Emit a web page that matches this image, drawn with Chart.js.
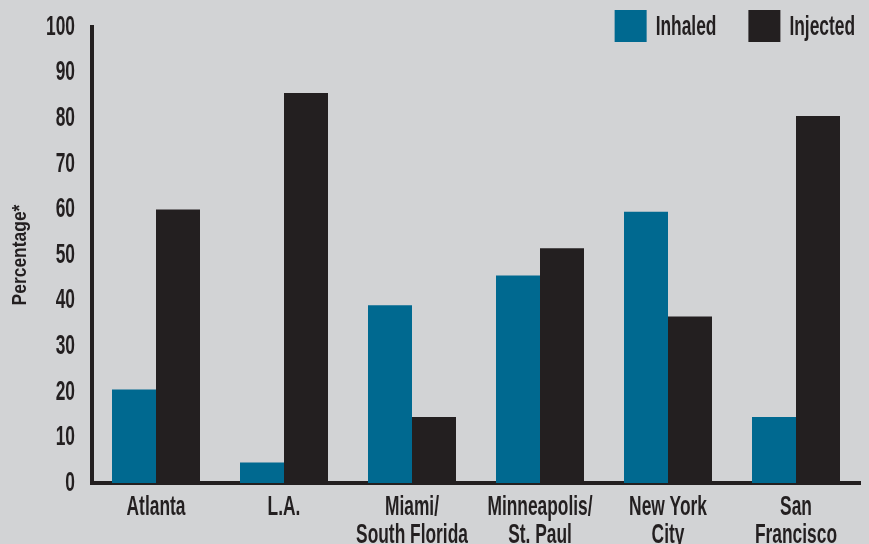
<!DOCTYPE html>
<html>
<head>
<meta charset="utf-8">
<script src="https://cdn.jsdelivr.net/npm/chart.js@4/dist/chart.umd.min.js"></script>
<style>
  html, body { margin: 0; padding: 0; background: #d2d3d5; }
  #wrap { width: 869px; height: 544px; }
</style>
</head>
<body>
<div id="wrap"><canvas id="c" width="869" height="544"></canvas></div>
<script>
const categories = [
  'Atlanta',
  'L.A.',
  ['Miami/', 'South Florida'],
  ['Minneapolis/', 'St. Paul'],
  ['New York', 'City'],
  ['San', 'Francisco']
];
const inhaled = [20.5, 4.5, 39, 45.5, 59.5, 14.5];
const injected = [60, 85.5, 14.5, 51.5, 36.5, 80.5];
const seriesNames = ['Inhaled', 'Injected'];
const yTicks = [0, 10, 20, 30, 40, 50, 60, 70, 80, 90, 100];

const FONT = "'Liberation Sans', Arial, sans-serif";
const INK = '#231f20';
const TEAL = '#006990';
const BG = '#d2d3d5';

// condensed look: horizontally compress text drawn on this canvas
const canvas = document.getElementById('c');
const ctx2d = canvas.getContext('2d');
function squeeze(c) {
  const m = /(\d+(?:\.\d+)?)px/.exec(c.font);
  const size = m ? parseFloat(m[1]) : 12;
  return size <= 22 ? 0.83 : 0.62;
}
const origFill = ctx2d.fillText.bind(ctx2d);
const origMeasure = ctx2d.measureText.bind(ctx2d);
ctx2d.fillText = function (text, x, y, maxWidth) {
  const sx = squeeze(this);
  this.save();
  this.translate(x, y);
  this.scale(sx, 1);
  if (maxWidth !== undefined && maxWidth !== null) origFill(text, 0, 0, maxWidth / sx);
  else origFill(text, 0, 0);
  this.restore();
};
ctx2d.measureText = function (text) {
  const sx = squeeze(this);
  const m = origMeasure(text);
  return {
    width: m.width * sx,
    actualBoundingBoxAscent: m.actualBoundingBoxAscent,
    actualBoundingBoxDescent: m.actualBoundingBoxDescent,
    actualBoundingBoxLeft: m.actualBoundingBoxLeft * sx,
    actualBoundingBoxRight: m.actualBoundingBoxRight * sx
  };
};

const bgPlugin = {
  id: 'bg',
  beforeDraw(chart) {
    const ctx = chart.ctx;
    ctx.save();
    ctx.fillStyle = BG;
    ctx.fillRect(0, 0, chart.width, chart.height);
    ctx.restore();
  }
};

const legendPlugin = {
  id: 'customLegend',
  afterDraw(chart) {
    const ctx = chart.ctx;
    ctx.save();
    ctx.font = 'bold 28px ' + FONT;
    ctx.textBaseline = 'middle';
    ctx.textAlign = 'left';
    const box = 32, gap = 9, spacing = 32;
    const cy = 26;
    let x = 855;
    const ds = chart.data.datasets.slice().reverse();
    ds.forEach(d => {
      const w = ctx.measureText(d.label).width;
      x -= w;
      ctx.fillStyle = INK;
      ctx.fillText(d.label, x, cy + 1);
      x -= gap + box;
      ctx.fillStyle = d.backgroundColor;
      ctx.fillRect(x, cy - box / 2, box, box);
      x -= spacing;
    });
    ctx.restore();
  }
};

new Chart(canvas, {
  type: 'bar',
  data: {
    labels: categories,
    datasets: [
      { label: seriesNames[0], data: inhaled, backgroundColor: TEAL },
      { label: seriesNames[1], data: injected, backgroundColor: INK }
    ]
  },
  options: {
    responsive: false,
    animation: false,
    devicePixelRatio: 1,
    layout: { padding: { top: 27, right: 9, left: 0, bottom: 0 } },
    plugins: { legend: { display: false }, tooltip: { enabled: false } },
    datasets: { bar: { categoryPercentage: 0.6875, barPercentage: 1.0 } },
    scales: {
      x: {
        grid: { display: false, drawTicks: false },
        border: { display: true, color: INK, width: 4 },
        ticks: {
          color: INK,
          font: { family: FONT, size: 28, weight: 'bold', lineHeight: 1.0 },
          padding: 10,
          maxRotation: 0,
          autoSkip: false
        },
        afterFit(s) { s.height = 61; }
      },
      y: {
        min: 0,
        max: 100,
        grid: { display: false, drawTicks: false },
        border: { display: true, color: INK, width: 4 },
        afterBuildTicks(s) { s.ticks = yTicks.map(v => ({ value: v })); },
        ticks: {
          color: INK,
          font: { family: FONT, size: 28, weight: 'bold', lineHeight: 1.0 },
          padding: 17
        },
        title: {
          display: true,
          text: 'Percentage*',
          color: INK,
          font: { family: FONT, size: 21, weight: 'bold' },
          padding: { top: 8, bottom: 0 }
        },
        afterFit(s) { s.width = 92; s.paddingTop = 0; s.paddingBottom = 0; }
      }
    }
  },
  plugins: [bgPlugin, legendPlugin]
});
</script>
</body>
</html>
